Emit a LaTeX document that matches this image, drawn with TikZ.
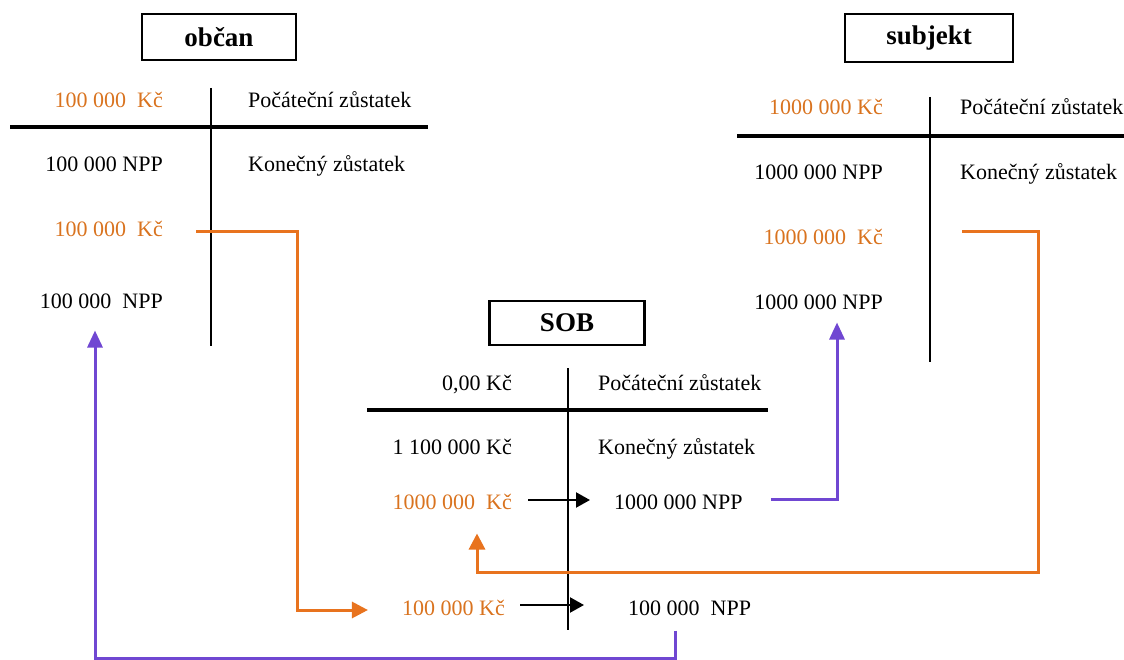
\documentclass[tikz,border=0pt]{standalone}
\usepackage{fontspec}
\setmainfont{Liberation Serif}
\usetikzlibrary{arrows.meta,calc}
\definecolor{orng}{HTML}{E8731E}
\definecolor{orngtxt}{HTML}{D9731F}
\definecolor{prpl}{HTML}{7047D2}
\begin{document}
\begin{tikzpicture}[x=1pt,y=-1pt,
  txt/.style={inner sep=0pt, text height=14.6pt, text depth=0pt, font=\fontsize{22}{24}\selectfont},
  lt/.style={txt, anchor=east},
  rt/.style={txt, anchor=west},
  org/.style={text=orngtxt},
  titlebox/.style={draw, line width=2.5pt, font=\fontsize{27}{30}\selectfont\bfseries, inner sep=0pt},
  tline/.style={line width=4pt},
  vline/.style={line width=2.5pt},
  oarrow/.style={draw=orng, line width=3pt, -{Triangle[length=16pt,width=16pt]}},
  parrow/.style={draw=prpl, line width=3pt, -{Triangle[length=17pt,width=15pt]}},
  barrow/.style={line width=2.2pt, -{Triangle[length=14pt,width=15pt]}}]
\useasboundingbox (0,0) rectangle (1124,660);
% ---------- obcan ----------
\node[titlebox, minimum width=154pt, minimum height=46pt] (tob) at (219,37) {občan};
\draw[tline] (10,127) -- (428,127);
\draw[vline] (211,88) -- (211,346);
\node[lt,org] (o1) at (163,100) {100 000\ \ Kč};
\node[rt] (o1r) at (248,100) {Počáteční zůstatek};
\node[lt] (o2) at (163,164) {100 000 NPP};
\node[rt] (o2r) at (248,164) {Konečný zůstatek};
\node[lt,org] (o3) at (163,229) {100 000\ \ Kč};
\node[lt] (o4) at (163,301) {100 000\ \ NPP};
% ---------- subjekt ----------
\node[titlebox, minimum width=168pt, minimum height=48pt] (tsu) at (929,38) {subjekt};
\draw[tline] (737,136) -- (1124,136);
\draw[vline] (930,97) -- (930,362);
\node[lt,org] (t1) at (883,107) {1000 000 Kč};
\node[rt] (t1r) at (960,107) {Počáteční zůstatek};
\node[lt] (t2) at (883,172) {1000 000 NPP};
\node[rt] (t2r) at (960,172) {Konečný zůstatek};
\node[lt,org] (t3) at (883,237) {1000 000\ \ Kč};
\node[lt] (t4) at (883,302) {1000 000 NPP};
% ---------- SOB ----------
\node[titlebox, minimum width=155pt, minimum height=44pt] (tsob) at (567,323) {SOB};
\draw[tline] (367,410) -- (768,410);
\draw[vline] (568,368) -- (568,630);
\node[lt] (s1) at (512,383) {0,00 Kč};
\node[rt] (s1r) at (598,383) {Počáteční zůstatek};
\node[lt] (s2) at (512,447) {1 100 000 Kč};
\node[rt] (s2r) at (598,447) {Konečný zůstatek};
\node[lt,org] (s3) at (512,502) {1000 000\ \ Kč};
\node[rt] (s3r) at (614,502) {1000 000 NPP};
\node[lt,org] (s4) at (505,608) {100 000 Kč};
\node[rt] (s4r) at (628,608) {100 000\ \ NPP};
% ---------- connectors ----------
\draw[barrow] ([xshift=16pt,yshift=2pt]s3.east) -- ([xshift=-24pt,yshift=2pt]s3r.west);
\draw[barrow] ([xshift=15pt,yshift=3pt]s4.east) -- ([xshift=-44pt,yshift=3pt]s4r.west);
\coordinate (bendA) at (297,600);
\draw[oarrow] ([xshift=33pt,yshift=-3pt]o3.east) -| (bendA) |- ([xshift=-34pt,yshift=-2pt]s4.west);
\coordinate (bendB) at (1038,572);
\draw[oarrow] ([xshift=79pt,yshift=5pt]t3.east) -| (bendB) -| ([xshift=-35pt,yshift=-24pt]s3.south east);
\draw[parrow] ([xshift=28pt,yshift=3pt]s3r.east) -| ([xshift=-46pt,yshift=-13pt]t4.south east);
\coordinate (bendC) at (400,658);
\draw[parrow] ([xshift=47pt,yshift=-15pt]s4r.south west) |- (bendC) -| ([xshift=-68pt,yshift=-22pt]o4.south east);
\end{tikzpicture}
\end{document}
